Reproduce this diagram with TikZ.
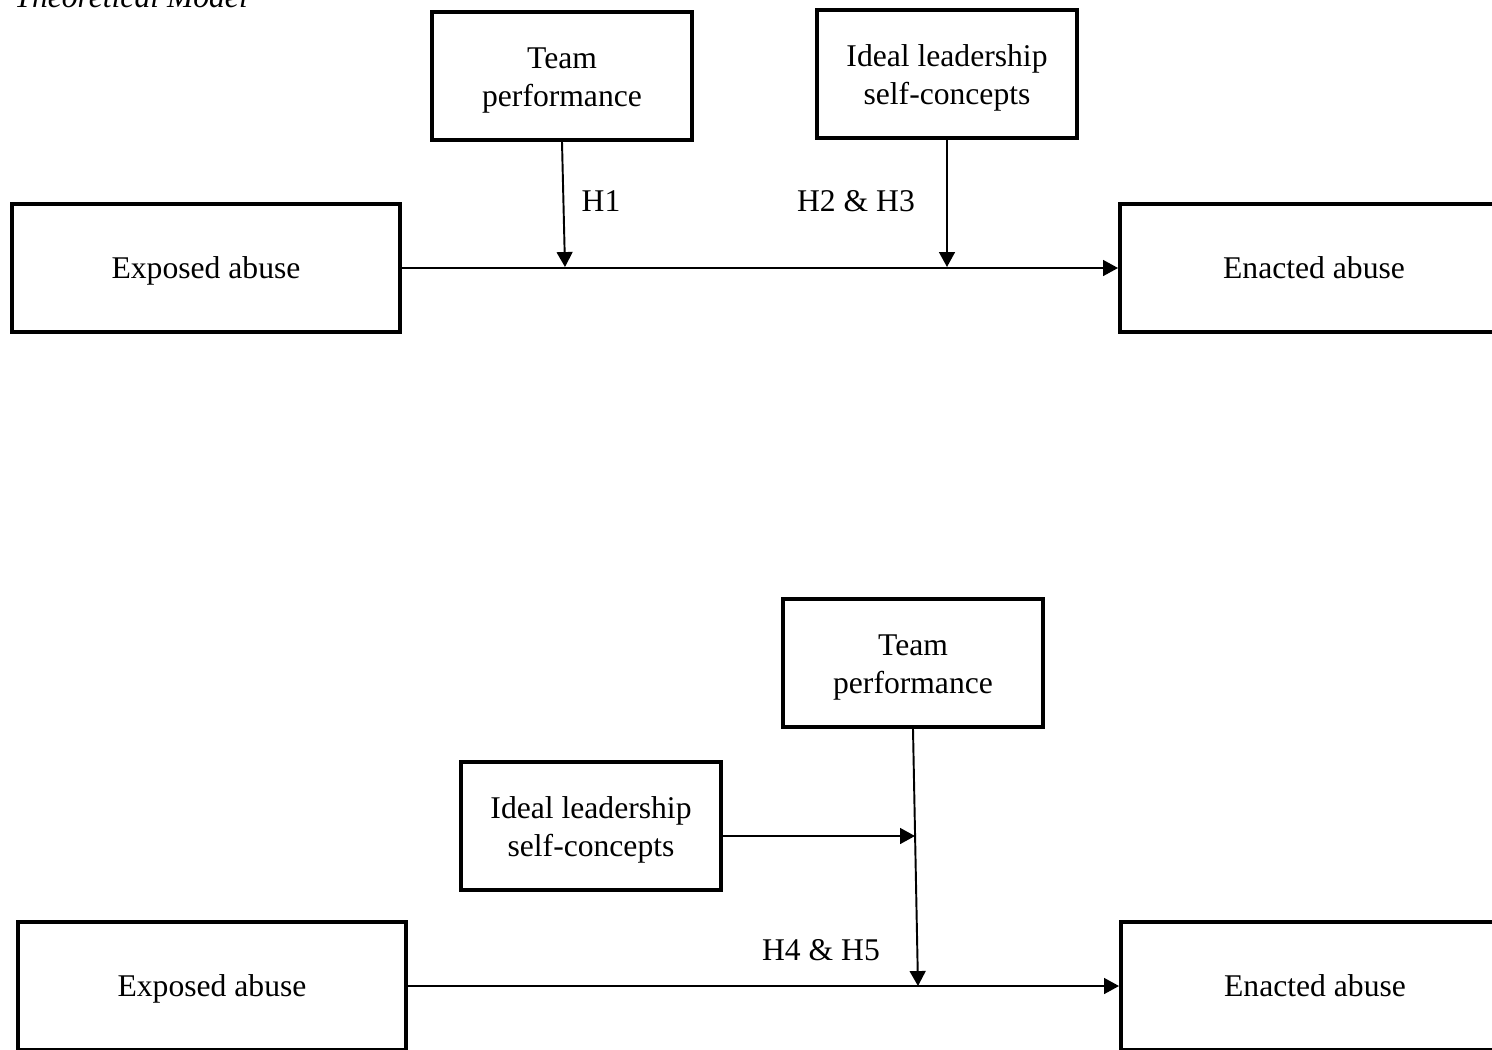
\documentclass[tikz,border=0pt]{standalone}
\usepackage{fontspec}
\setmainfont{Liberation Serif}
\usepackage{tikz}
\usetikzlibrary{calc,arrows.meta}
\newcommand{\tstrut}{\rule{0pt}{17pt}}

\begin{document}
\begin{tikzpicture}[x=0.02cm,y=-0.02cm,
                    -{Triangle[length=8.5pt,width=9pt]},line width=1.1pt,
                    inner sep=2pt,
                    every node/.style={font=\fontsize{18}{21.6}\selectfont},
                    varbox/.style={rectangle,draw,line width=2.3pt,align=center,
                                   minimum width=5.2cm,minimum height=2.56cm},
                    outbox/.style={varbox,minimum width=7.76cm,
                                   text height=16.4pt,text depth=4pt}]
\useasboundingbox (0,0) rectangle (1492,1049);
\node[anchor=base west,font=\fontsize{18}{21.6}\itshape] (title) at (10,7) {Theoretical Model};
%
\begin{scope}
\node[varbox]  (tp)  at (562, 76)  {\tstrut Team\\performance};
\node[varbox]  (ils) at (947, 74)  {\tstrut Ideal leadership\\self-concepts};
\node[outbox]  (ex)  at (206, 268) {Exposed abuse};
\node[outbox]  (en)  at (1314, 268){Enacted abuse};
\coordinate (m1) at (565, 267);
\coordinate (m2) at (947, 267);
%
\path
  (ex) edge (en)
  (tp.south) edge (m1)
  (ils.south) edge (m2)
  ;
\node (h1)  at (601, 201) {H1};
\node (h23) at (856, 201) {H2 \& H3};
\end{scope}
%
\begin{scope}
\node[varbox]  (tp2)  at (913, 663)  {\tstrut Team\\performance};
\node[varbox]  (ils2) at (591, 826)  {\tstrut Ideal leadership\\self-concepts};
\node[outbox]  (ex2)  at (212, 986)  {Exposed abuse};
\node[outbox]  (en2)  at (1315, 986) {Enacted abuse};
\coordinate (m3) at (918, 986);
\coordinate (m4) at (915, 836);
%
\path
  (ex2) edge (en2)
  (tp2.south) edge (m3)
  (ils2.east |- m4) edge (m4)
  ;
\node (h45) at (821, 950) {H4 \& H5};
\end{scope}
\end{tikzpicture}
\end{document}
